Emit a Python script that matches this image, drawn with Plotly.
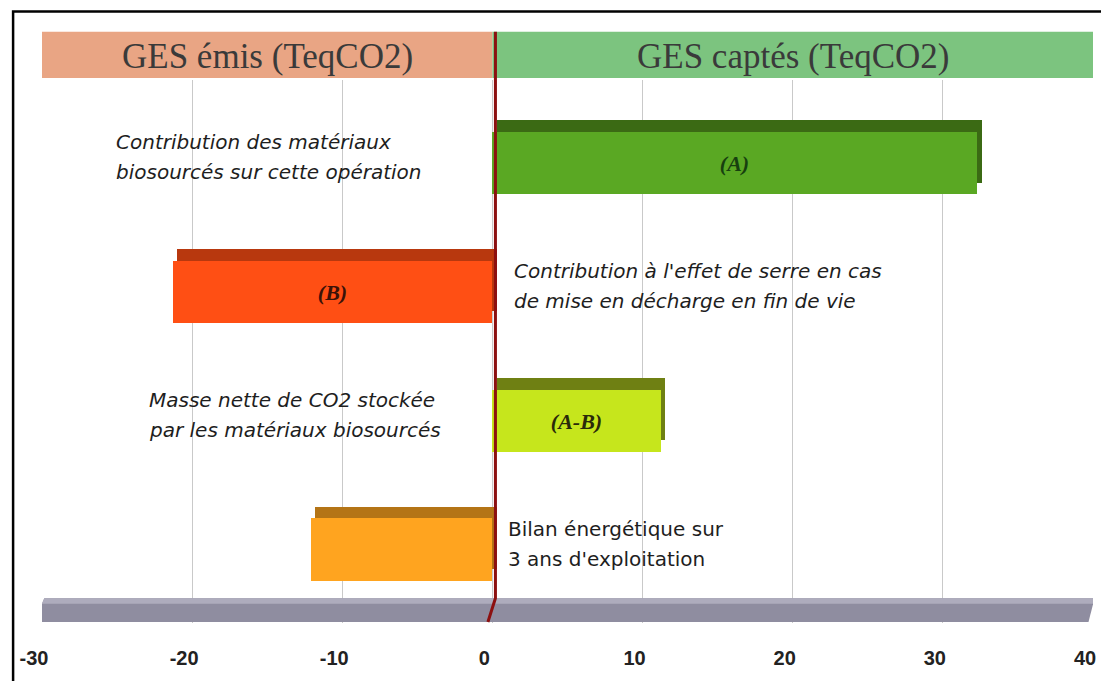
import plotly.graph_objects as go

# bar values (TeqCO2), top to bottom
bar_labels = ["(A)", "(B)", "(A-B)", ""]
bar_values = [32.3, -21.3, 11.2, -12.1]
front_colors = ["#5aa823", "#ff4f14", "#c6e61c", "#ffa41f"]
depth_colors = ["#3b6a14", "#b8380e", "#6f8013", "#b47416"]
label_colors = ["#17400f", "#3a1208", "#2a2a0a", "#222222"]

notes = [
    (["Contribution des matériaux", "biosourcés sur cette opération"], -25.2, True),
    (["Contribution à l'effet de serre en cas", "de mise en décharge en fin de vie"], 1.3, True),
    (["Masse nette de CO2 stockée", "par les matériaux biosourcés"], -23.0, True),
    (["Bilan énergétique sur", "3 ans d'exploitation"], 0.9, False),
]

x_ticks = [-30, -20, -10, 0, 10, 20, 30, 40]
x_ticktext = ["-30", "-20", "-10", "0", "10", "20", "30", "40"]
header_left = "GES émis (TeqCO2)"
header_right = "GES captés (TeqCO2)"

ypos = list(range(len(bar_values)))
BW = 0.485
DY = 0.046
DX = 0.3

fig = go.Figure()
# dark "depth" face behind each bar (3D look)
fig.add_trace(go.Bar(
    y=[p - DY for p in ypos], x=bar_values, base=DX, orientation="h",
    width=BW, marker=dict(color=depth_colors, line=dict(width=0)),
    showlegend=False, hoverinfo="skip",
))
fig.add_trace(go.Bar(
    y=[p + DY for p in ypos], x=bar_values, base=0, orientation="h",
    width=BW, marker=dict(color=front_colors, line=dict(width=0)),
    text=[f"<b><i>{t}</i></b>" if t else "" for t in bar_labels],
    textposition="inside", insidetextanchor="middle",
    textfont=dict(family="Liberation Serif", size=22, color=label_colors),
    showlegend=False, hovertemplate="%{x}<extra></extra>",
))

for i, (lines, xn, ital) in enumerate(notes):
    for j, line in enumerate(lines):
        fig.add_annotation(
            x=xn, y=ypos[i], xref="x", yref="y", xanchor="left", yanchor="middle",
            showarrow=False, yshift=15 - 30 * j,
            text=f"<i>{line}</i>" if ital else line,
            font=dict(family="DejaVu Sans", size=20, color="#1e1e1e"),
        )

# header bands
y_hb0, y_hb1 = 1.0036, 1.089
fig.add_shape(type="rect", xref="x", yref="paper", x0=x_ticks[0], x1=0, y0=y_hb0, y1=y_hb1,
              fillcolor="#e9a584", line=dict(width=0), layer="below")
fig.add_shape(type="rect", xref="x", yref="paper", x0=0, x1=x_ticks[-1], y0=y_hb0, y1=y_hb1,
              fillcolor="#7cc47f", line=dict(width=0), layer="below")
for xh, txt in [(x_ticks[0] / 2, header_left), (x_ticks[-1] / 2, header_right)]:
    fig.add_annotation(x=xh, y=(y_hb0 + y_hb1) / 2, xref="x", yref="paper",
                       xanchor="center", yanchor="middle", showarrow=False, yshift=-2,
                       text=txt, font=dict(family="Liberation Serif", size=35, color="#3a3a3a"))

# grey floor
fl_top, fl_bot = 0.0456, 0.0018
fig.add_shape(type="path", xref="x", yref="paper",
              path=f"M -29.85 {fl_top} L 40.1 {fl_top} L 39.7 {fl_bot} L -30.5 {fl_bot} Z",
              fillcolor="#8f8da0", line=dict(width=0), layer="above")
fig.add_shape(type="path", xref="x", yref="paper",
              path=f"M -29.85 {fl_top} L 40.1 {fl_top} L 40.0 {fl_top - 0.01} L -30.0 {fl_top - 0.01} Z",
              fillcolor="#aeacbd", line=dict(width=0), layer="above")

# zero line
fig.add_shape(type="path", xref="x", yref="paper",
              path=f"M 0.2 1.089 L 0.2 {fl_top} L -0.3 {fl_bot}",
              line=dict(color="#8c1010", width=3), layer="above")

# page frame
fig.add_shape(type="path", xref="paper", yref="paper",
              path="M -0.0275 -0.2 L -0.0275 1.126 L 1.1 1.126",
              line=dict(color="#000000", width=2.5))

fig.update_layout(
    width=1101, height=673,
    paper_bgcolor="white", plot_bgcolor="white",
    margin=dict(l=30, r=16, t=72, b=53),
    barmode="overlay", bargap=0,
    xaxis=dict(range=[x_ticks[0], x_ticks[-1]], tickvals=x_ticks, ticktext=x_ticktext,
               showgrid=True, gridcolor="#c9c9c9", gridwidth=1, zeroline=False,
               ticks="outside", ticklen=17, tickcolor="rgba(0,0,0,0)",
               ticklabelshift=-8,
               tickfont=dict(family="Liberation Sans Narrow, Liberation Sans", size=20, color="#222222",
                             weight="bold"),
               showline=False),
    yaxis=dict(range=[3.615, -0.6], visible=False, showgrid=False),
)

fig.write_html("out.html")
